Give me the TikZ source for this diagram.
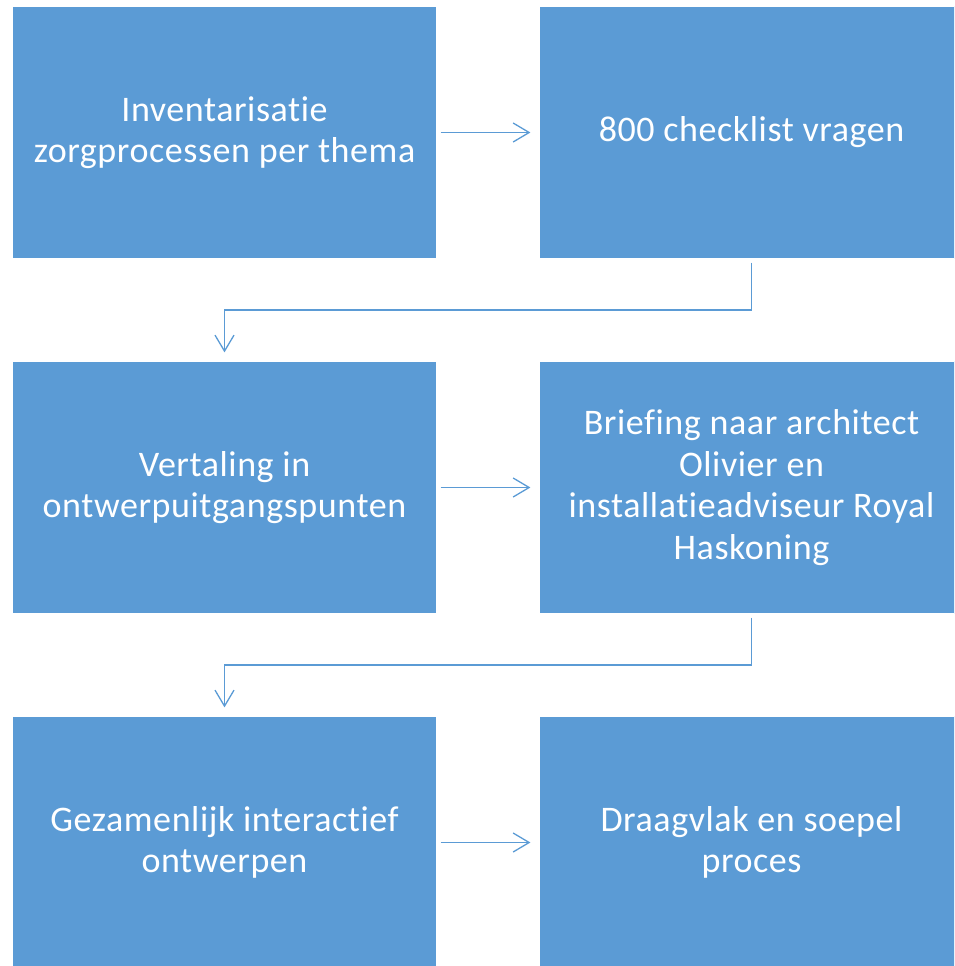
\documentclass[tikz,border=0pt]{standalone}
\usepackage{fontspec}
\setmainfont[Ligatures={NoCommon},LetterSpace=1.6]{Carlito}
\usetikzlibrary{arrows.meta}
\definecolor{boxblue}{HTML}{5B9BD5}
\begin{document}
\begin{tikzpicture}[x=1pt,y=-1pt,
  box/.style={draw=white, line width=1.2pt, fill=boxblue, minimum width=425pt,
    minimum height=253pt, inner sep=0pt, text=white, align=center,
    font=\fontsize{36}{41.5}\selectfont},
  conn/.style={draw=boxblue, line width=1.3pt,
    -{Straight Barb[length=16pt,width=19pt,line width=1.3pt]}}]
\useasboundingbox (0,0) rectangle (954,966);
\clip (0,0) rectangle (954,966);
\node[box] (b1) at (224.5,132.5) {Inventarisatie\\zorgprocessen per thema};
\node[box] (b2) at (751.5,132.5) {800 checklist vragen};
\node[box] (b3) at (224.5,487.5) {Vertaling in\\ontwerpuitgangspunten};
\node[box] (b4) at (751.5,487.5) {Briefing naar architect\\Olivier en\\installatieadviseur Royal\\Haskoning};
\node[box] (b5) at (224.5,842.5) {Gezamenlijk interactief\\ontwerpen};
\node[box] (b6) at (751.5,842.5) {Draagvlak en soepel\\proces};
\draw[conn, shorten <=3pt, shorten >=8pt] (b1.east) -- (b2.west);
\draw[conn, shorten <=3pt, shorten >=8pt] (b3.east) -- (b4.west);
\draw[conn, shorten <=3pt, shorten >=8pt] (b5.east) -- (b6.west);
\draw[conn, shorten <=3pt, shorten >=8pt] (b2.south) -- ++(0,50.5) -| (b3.north);
\draw[conn, shorten <=3pt, shorten >=8pt] (b4.south) -- ++(0,50.5) -| (b5.north);
\end{tikzpicture}
\end{document}
